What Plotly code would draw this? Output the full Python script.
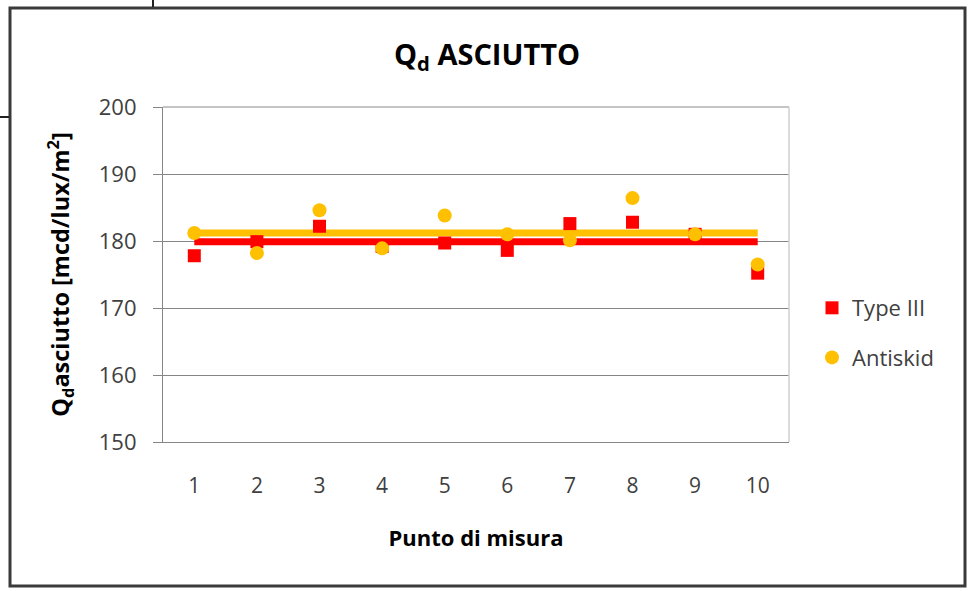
import plotly.graph_objects as go

# Measurement points and dry retroreflection values
punti = [1, 2, 3, 4, 5, 6, 7, 8, 9, 10]
type_iii = [177.8, 179.9, 182.2, 179.2, 179.7, 178.6, 182.6, 182.8, 181.0, 175.2]
antiskid = [181.2, 178.2, 184.6, 178.9, 183.8, 181.0, 180.1, 186.4, 181.0, 176.5]

# Average levels drawn as horizontal reference lines
media_type_iii = 179.9
media_antiskid = 181.2

y_ticks = [150, 160, 170, 180, 190, 200]

RED = "#FF0000"
GOLD = "#FFC000"
FONT = "Open Sans"

W, H = 971, 591
ML, MR, MT, MB = 163, 182, 107, 149
PW, PH = W - ML - MR, H - MT - MB


def px_x(x):
    return (x - ML) / PW


def px_y(y):
    return (H - MB - y) / PH


fig = go.Figure()

fig.add_trace(go.Scatter(
    x=[punti[0], punti[-1]], y=[media_antiskid, media_antiskid],
    mode="lines", line=dict(color=GOLD, width=7), showlegend=False, hoverinfo="skip"))
fig.add_trace(go.Scatter(
    x=[punti[0], punti[-1]], y=[media_type_iii, media_type_iii],
    mode="lines", line=dict(color=RED, width=7), showlegend=False, hoverinfo="skip"))

fig.add_trace(go.Scatter(
    x=punti, y=type_iii, mode="markers", name="Type III", legendgroup="a",
    marker=dict(symbol="square", size=13, color=RED)))
fig.add_trace(go.Scatter(
    x=punti, y=antiskid, mode="markers", name="Antiskid", legendgroup="b",
    marker=dict(symbol="circle", size=14, color=GOLD)))

shapes = [
    # plot area top and right border
    dict(type="line", xref="paper", yref="paper", x0=0, x1=1, y0=1, y1=1,
         line=dict(color="#8a8a8a", width=1.2)),
    dict(type="line", xref="paper", yref="paper", x0=1, x1=1, y0=0, y1=1,
         line=dict(color="#cfcfcf", width=1.5)),
    # chart frame
    dict(type="rect", xref="paper", yref="paper",
         x0=px_x(10), x1=px_x(965), y0=px_y(586), y1=px_y(8),
         line=dict(color="#3a3a3a", width=3)),
    # neighbouring frame edges
    dict(type="line", xref="paper", yref="paper",
         x0=px_x(153), x1=px_x(153), y0=px_y(0), y1=px_y(7),
         line=dict(color="#222222", width=2)),
    dict(type="line", xref="paper", yref="paper",
         x0=px_x(0), x1=px_x(9), y0=px_y(117), y1=px_y(117),
         line=dict(color="#222222", width=2)),
]

fig.update_layout(
    width=W, height=H,
    margin=dict(l=ML, r=MR, t=MT, b=MB),
    paper_bgcolor="white", plot_bgcolor="white",
    font=dict(family=FONT, color="#404040"),
    title=dict(text="<b>Q<sub>d</sub> ASCIUTTO</b>", x=487 / W, xref="container",
               xanchor="center", y=1 - 55 / H, yref="container", yanchor="middle",
               font=dict(family=FONT, size=29, color="#000000")),
    xaxis=dict(range=[0.5, 10.5], tickmode="array", tickvals=punti,
               ticktext=[str(p) for p in punti], showgrid=False, zeroline=False,
               showline=True, linecolor="#868686", linewidth=1.2, ticks="",
               tickfont=dict(size=21, color="#404040"), ticklabelstandoff=25,
               title=dict(text="<b>Punto di misura</b>", standoff=32,
                          font=dict(size=22, color="#000000"))),
    yaxis=dict(range=[150, 200], tickmode="array", tickvals=y_ticks,
               showgrid=True, gridcolor="#868686", gridwidth=1.2, zeroline=False,
               showline=True, linecolor="#868686", linewidth=1.2,
               ticks="outside", ticklen=9, tickcolor="#868686", tickwidth=1.2,
               tickfont=dict(size=22, color="#404040"), ticklabelstandoff=12,
               title=dict(text="<b>Q<sub>d</sub>asciutto [mcd/lux/m<sup>2</sup>]</b>",
                          standoff=22, font=dict(size=23.5, color="#000000"))),
    legend=dict(x=px_x(812), xanchor="left", y=px_y(287), yanchor="top",
                font=dict(size=22, color="#404040"), bgcolor="rgba(0,0,0,0)",
                tracegroupgap=18, itemwidth=30),
    shapes=shapes,
    showlegend=True,
)

fig.write_html("out.html")
